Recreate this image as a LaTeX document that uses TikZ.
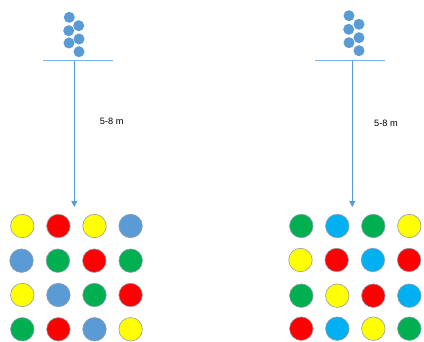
\documentclass[tikz,border=0pt]{standalone}
\usepackage{fontspec}
\setmainfont{Liberation Sans}
\usetikzlibrary{arrows.meta}
\definecolor{cblue}{HTML}{5B9BD5}
\definecolor{cline}{HTML}{7EB2E2}
\definecolor{cyel}{HTML}{FFFF00}
\definecolor{cred}{HTML}{FF0000}
\definecolor{cgrn}{HTML}{00B050}
\definecolor{csky}{HTML}{00B0F0}
\definecolor{crim}{HTML}{8E9CB0}
\tikzset{
  ball/.style={circle, minimum size=23.5pt, inner sep=0pt, draw=crim, line width=0.6pt},
  bead/.style={circle, minimum size=11pt, inner sep=0pt, fill=cblue},
  bar/.style={draw=cline, line width=1pt},
  drop/.style={draw=cblue, line width=0.8pt, -{Triangle[width=6pt,length=6pt]}},
  lbl/.style={font=\fontsize{9.2}{11}\selectfont, text=black}
}
\begin{document}
\begin{tikzpicture}[x=1pt,y=-1pt]
\useasboundingbox (0,0) rectangle (424,342);

% left source: cluster of beads above a bar
\node[bead] (l1) at (69.3,17.3) {};
\node[bead] (l2) at (78.7,25.7) {};
\node[bead] (l3) at (68.7,30.7) {};
\node[bead] (l4) at (79,39) {};
\node[bead] (l5) at (69,43) {};
\node[bead] (l6) at (79,51.7) {};
\coordinate (lbarA) at (43.3,61);
\coordinate (lbarB) at (113,61);
\coordinate (ltop) at (74.3,61);
\coordinate (lend) at (74.3,207);
\draw[bar] (lbarA) -- (lbarB);
\draw[drop] (ltop) -- (lend);
\node[lbl] (lh) at (111.7,121.7) {5-8 m};

% right source
\node[bead] (r1) at (349,15.7) {};
\node[bead] (r2) at (359,24.3) {};
\node[bead] (r3) at (348.7,29.3) {};
\node[bead] (r4) at (359,37.7) {};
\node[bead] (r5) at (349,42.7) {};
\node[bead] (r6) at (359,50.7) {};
\coordinate (rbarA) at (315.3,61);
\coordinate (rbarB) at (385,61);
\coordinate (rtop) at (352.3,61);
\coordinate (rend) at (352.3,207);
\draw[bar] (rbarA) -- (rbarB);
\draw[drop] (rtop) -- (rend);
\node[lbl] (rh) at (386,123.5) {5-8 m};

% left grid of targets
\foreach \c [count=\i] in {cyel,cred,cyel,cblue}
  \node[ball, fill=\c] (a1\i) at ({22.3+(\i-1)*36.1},226) {};
\foreach \c [count=\i] in {cblue,cgrn,cred,cgrn}
  \node[ball, fill=\c] (a2\i) at ({21.5+(\i-1)*36.4},260.7) {};
\foreach \c [count=\i] in {cyel,cblue,cgrn,cred}
  \node[ball, fill=\c] (a3\i) at ({22.3+(\i-1)*36.1},295) {};
\foreach \c [count=\i] in {cgrn,cred,cblue,cyel}
  \node[ball, fill=\c] (a4\i) at ({22.3+(\i-1)*36.1},329.3) {};

% right grid of targets
\foreach \c [count=\i] in {cgrn,csky,cgrn,cyel}
  \node[ball, fill=\c] (b1\i) at ({301.3+(\i-1)*36},226) {};
\foreach \c [count=\i] in {cyel,cred,csky,cred}
  \node[ball, fill=\c] (b2\i) at ({300.5+(\i-1)*36.2},260) {};
\foreach \c [count=\i] in {cgrn,cyel,cred,csky}
  \node[ball, fill=\c] (b3\i) at ({301.3+(\i-1)*36},295.7) {};
\foreach \c [count=\i] in {cred,csky,cyel,cgrn}
  \node[ball, fill=\c] (b4\i) at ({301.3+(\i-1)*36},328.7) {};
\end{tikzpicture}
\end{document}
